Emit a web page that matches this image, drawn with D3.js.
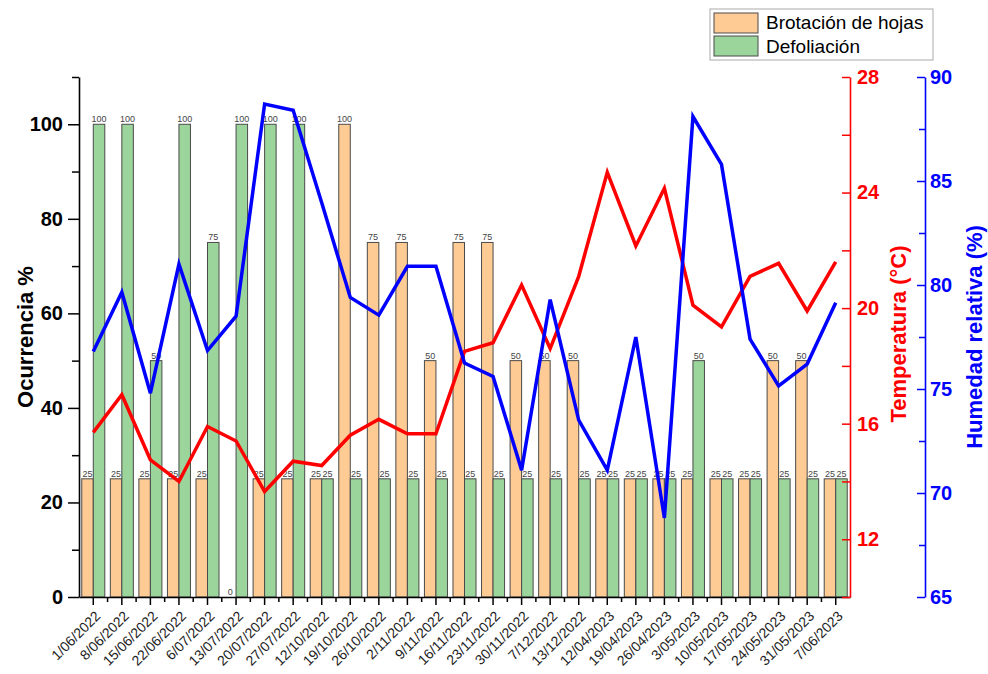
<!DOCTYPE html>
<html><head><meta charset="utf-8">
<script src="https://cdn.jsdelivr.net/npm/d3@7"></script>
<style>
body{margin:0;background:#fff}
svg{display:block;font-family:Arial,"Liberation Sans",sans-serif}
</style>
</head><body>
<svg id="chart" width="988" height="674"></svg>
<script>
// Fechas de muestreo
const fechas = ["1/06/2022","8/06/2022","15/06/2022","22/06/2022","6/07/2022","13/07/2022",
  "20/07/2022","27/07/2022","12/10/2022","19/10/2022","26/10/2022","2/11/2022","9/11/2022",
  "16/11/2022","23/11/2022","30/11/2022","7/12/2022","13/12/2022","12/04/2023","19/04/2023",
  "26/04/2023","3/05/2023","10/05/2023","17/05/2023","24/05/2023","31/05/2023","7/06/2023"];
// Ocurrencia (%) de cada fenofase
const brotacion   = [25,25,25,25,25,0,25,25,25,100,75,75,50,75,75,50,50,50,25,25,25,25,25,25,50,50,25];
const defoliacion = [100,100,50,100,75,100,100,100,25,25,25,25,25,25,25,25,25,25,25,25,25,50,25,25,25,25,25];
// Variables climáticas
const temperatura = [15.7,17.0,14.75,14.0,15.9,15.4,13.65,14.7,14.55,15.6,16.15,15.65,15.65,18.5,18.8,
  20.8,18.6,21.1,24.7,22.15,24.15,20.1,19.35,21.1,21.55,19.9,21.6];
const humedad = [76.8,79.65,74.8,81.0,76.85,78.5,88.7,88.4,83.95,79.4,78.55,80.9,80.9,76.25,75.6,
  71.1,79.3,73.5,71.1,77.5,68.8,88.1,85.8,77.4,75.15,76.2,79.15];
// Marcas de los ejes
const ticksOcurrencia = [0,20,40,60,80,100];
const minorOcurrencia = [10,30,50,70,90,110];
const ticksTemp = [12,16,20,24,28];
const minorTemp = [10,14,18,22,26];
const ticksHum = [65,70,75,80,85,90];
const minorHum = [67.5,72.5,77.5,82.5,87.5];
const series = ["Brotación de hojas","Defoliación"];
const colores = ["#FECB95","#9BD59B"];

const svg = d3.select("#chart");
const mLeft = 79, mRight = 850, mTop = 77, mBottom = 597, humX = 925;

const x = d3.scaleBand().domain(fechas).range([mLeft, mRight]).padding(0);
const xs = d3.scaleBand().domain(series).range([0, x.bandwidth()]).paddingInner(0).paddingOuter(0.24);
const yL = d3.scaleLinear().domain([0,110]).range([mBottom, mTop]);
const yT = d3.scaleLinear().domain([10,28]).range([mBottom, mTop]);
const yH = d3.scaleLinear().domain([65,90]).range([mBottom, mTop]);
const cx = d => x(d) + x.bandwidth()/2;

// Barras
const datos = [brotacion, defoliacion];
const gBars = svg.append("g");
series.forEach((s, si) => {
  gBars.selectAll(null).data(fechas).join("rect")
    .attr("x", d => x(d) + xs(s))
    .attr("y", (d,i) => yL(datos[si][i]))
    .attr("width", xs.bandwidth())
    .attr("height", (d,i) => yL(0) - yL(datos[si][i]))
    .attr("fill", colores[si])
    .attr("stroke", "#4a4a4a").attr("stroke-width", 1);
});
// Etiquetas de valor
series.forEach((s, si) => {
  gBars.selectAll(null).data(fechas).join("text")
    .attr("x", d => x(d) + xs(s) + xs.bandwidth()/2)
    .attr("y", (d,i) => yL(datos[si][i]) - 2)
    .attr("text-anchor","middle")
    .attr("font-size", 9).attr("fill","#444")
    .text((d,i) => datos[si][i]);
});

// Líneas
const lineT = d3.line().x((d,i) => cx(fechas[i])).y(d => yT(d));
const lineH = d3.line().x((d,i) => cx(fechas[i])).y(d => yH(d));
svg.append("path").datum(temperatura).attr("d", lineT)
  .attr("fill","none").attr("stroke","#ff0000").attr("stroke-width",3.5).attr("stroke-linejoin","miter");
svg.append("path").datum(humedad).attr("d", lineH)
  .attr("fill","none").attr("stroke","#0000ff").attr("stroke-width",3.5).attr("stroke-linejoin","miter");

// Eje X
const gx = svg.append("g").attr("transform", `translate(0,${mBottom})`)
  .call(d3.axisBottom(x).tickSizeInner(8).tickSizeOuter(0));
gx.select(".domain").attr("stroke","#000").attr("stroke-width",1.6);
gx.selectAll(".tick line").attr("stroke","#000").attr("stroke-width",1.5);
gx.selectAll(".tick text")
  .attr("font-size",14).attr("fill","#222")
  .attr("text-anchor","end")
  .attr("x",0).attr("y",0).attr("dy",0)
  .attr("transform","translate(8,20) rotate(-45)");
svg.append("g").selectAll("line").data(fechas.slice(1)).join("line")
  .attr("x1", d => x(d)).attr("x2", d => x(d))
  .attr("y1", mBottom).attr("y2", mBottom + 5)
  .attr("stroke","#000").attr("stroke-width",1.5);

// Eje izquierdo
const gy = svg.append("g").attr("transform", `translate(${mLeft},0)`)
  .call(d3.axisLeft(yL).tickValues(ticksOcurrencia).tickSizeInner(11).tickSizeOuter(0).tickPadding(5));
gy.select(".domain").attr("stroke","#000").attr("stroke-width",1.6);
gy.selectAll(".tick line").attr("stroke","#000").attr("stroke-width",1.5);
gy.selectAll(".tick text").attr("font-size",20).attr("font-weight","bold").attr("fill","#000");
svg.append("g").attr("transform", `translate(${mLeft},0)`)
  .call(d3.axisLeft(yL).tickValues(minorOcurrencia).tickSizeInner(7).tickSizeOuter(0).tickFormat(""))
  .call(g => g.select(".domain").remove())
  .selectAll("line").attr("stroke","#000").attr("stroke-width",1.5);

// Eje de temperatura
const gt = svg.append("g").attr("transform", `translate(${mRight},0)`)
  .call(d3.axisRight(yT).tickValues(ticksTemp).tickSizeInner(-8).tickSizeOuter(0).tickPadding(7));
gt.select(".domain").attr("stroke","#ff0000").attr("stroke-width",1.6);
gt.selectAll(".tick line").attr("stroke","#ff0000").attr("stroke-width",1.5);
gt.selectAll(".tick text").attr("font-size",20).attr("font-weight","bold").attr("fill","#ff0000");
svg.append("g").attr("transform", `translate(${mRight},0)`)
  .call(d3.axisRight(yT).tickValues(minorTemp).tickSizeInner(-8).tickSizeOuter(0).tickFormat(""))
  .call(g => g.select(".domain").remove())
  .selectAll("line").attr("stroke","#ff0000").attr("stroke-width",1.5);

// Eje de humedad
const gh = svg.append("g").attr("transform", `translate(${humX},0)`)
  .call(d3.axisRight(yH).tickValues(ticksHum).tickSizeInner(-8).tickSizeOuter(0).tickPadding(5));
gh.select(".domain").attr("stroke","#0000ff").attr("stroke-width",1.6);
gh.selectAll(".tick line").attr("stroke","#0000ff").attr("stroke-width",1.5);
gh.selectAll(".tick text").attr("font-size",20).attr("font-weight","bold").attr("fill","#0000ff");
svg.append("g").attr("transform", `translate(${humX},0)`)
  .call(d3.axisRight(yH).tickValues(minorHum).tickSizeInner(-6).tickSizeOuter(0).tickFormat(""))
  .call(g => g.select(".domain").remove())
  .selectAll("line").attr("stroke","#0000ff").attr("stroke-width",1.5);

// Títulos de ejes
const midY = (mTop + mBottom) / 2;
svg.append("text").attr("transform",`translate(33,${midY}) rotate(-90)`)
  .attr("text-anchor","middle").attr("font-size",22).attr("font-weight","bold").attr("fill","#000")
  .text("Ocurrencia %");
svg.append("text").attr("transform",`translate(906,${midY - 3}) rotate(-90)`)
  .attr("text-anchor","middle").attr("font-size",22).attr("font-weight","bold").attr("fill","#ff0000")
  .text("Temperatura (°C)");
svg.append("text").attr("transform",`translate(982,${midY}) rotate(-90)`)
  .attr("text-anchor","middle").attr("font-size",22).attr("font-weight","bold").attr("fill","#0000ff")
  .text("Humedad relativa (%)");

// Leyenda
const lg = svg.append("g");
lg.append("rect").attr("x",710).attr("y",9).attr("width",223).attr("height",51)
  .attr("fill","#fff").attr("stroke","#aaa").attr("stroke-width",1);
series.forEach((s, i) => {
  lg.append("rect").attr("x",714).attr("y",13 + i*23).attr("width",44).attr("height",20)
    .attr("fill",colores[i]).attr("stroke","#4a4a4a").attr("stroke-width",1);
  lg.append("text").attr("x",766).attr("y",29 + i*24).attr("font-size",19).attr("fill","#000").text(s);
});
</script>
</body></html>
